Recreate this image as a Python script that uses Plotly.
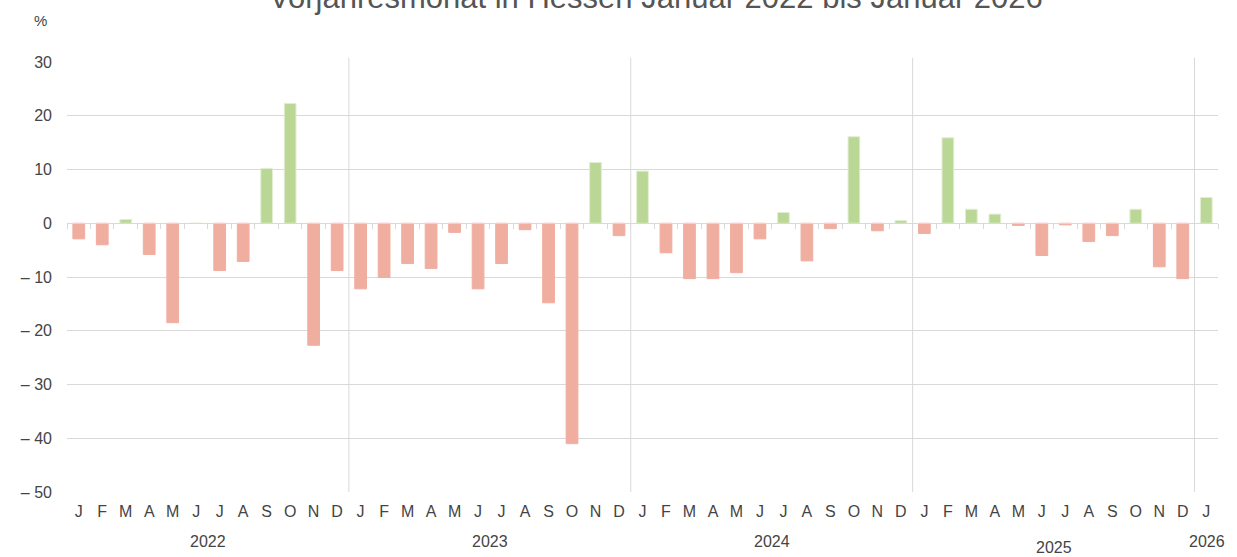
import plotly.graph_objects as go

months = ["J", "F", "M", "A", "M", "J", "J", "A", "S", "O", "N", "D"]
years = ["2022", "2023", "2024", "2025", "2026"]
month_labels = months * 4 + ["J"]

values = [
    -2.9, -4.0, 0.7, -5.8, -18.5, 0.0, -8.8, -7.1, 10.2, 22.3, -22.7, -8.8,   # 2022
    -12.2, -10.1, -7.5, -8.4, -1.7, -12.2, -7.5, -1.2, -14.8, -41.0, 11.3, -2.3,  # 2023
    9.7, -5.5, -10.3, -10.3, -9.2, -2.9, 2.0, -7.0, -1.0, 16.1, -1.4, 0.5,  # 2024
    -1.9, 15.9, 2.6, 1.7, -0.4, -6.0, -0.3, -3.4, -2.3, 2.6, -8.1, -10.3,  # 2025
    4.8,  # 2026
]

y_ticks = [-50, -40, -30, -20, -10, 0, 10, 20, 30]
y_ticktext = [("– " + str(-v)) if v < 0 else str(v) for v in y_ticks]

POS = "#bbd795"
NEG = "#f0aea0"
x = list(range(len(values)))
colors = [POS if v >= 0 else NEG for v in values]
line_colors = ["#e2eed3" if v >= 0 else NEG for v in values]

fig = go.Figure()
fig.add_trace(go.Bar(
    x=x, y=values, width=0.5,
    marker=dict(color=colors, line=dict(color=line_colors, width=1)),
    hoverinfo="y",
))

# ticks on zero line (overlay axis)
fig.add_trace(go.Scatter(x=[0], y=[0], xaxis="x2", mode="markers",
                         marker=dict(opacity=0), showlegend=False, hoverinfo="skip"))

font_family = "Liberation Sans, Arial, sans-serif"
txt = "#444444"
grid = "#d9d9d9"

fig.update_layout(
    width=1237, height=557,
    margin=dict(l=67, r=19, t=62, b=65),
    paper_bgcolor="white", plot_bgcolor="white",
    showlegend=False,
    font=dict(family=font_family, size=16, color=txt),
    bargap=0.5,
    xaxis=dict(
        range=[-0.5, len(values) - 0.5],
        tickmode="array", tickvals=x, ticktext=month_labels,
        showgrid=False, zeroline=False, showline=False, ticks="",
        ticklabelstandoff=8,
        tickfont=dict(size=16, color=txt),
    ),
    xaxis2=dict(
        overlaying="x", anchor="free", position=50 / 80,
        range=[-0.5, len(values) - 0.5],
        tickmode="array", tickvals=[i - 0.5 for i in range(len(values) + 1)],
        ticks="outside", ticklen=5, tickcolor=grid, tickwidth=1,
        showticklabels=False, showgrid=False, zeroline=False,
        showline=True, linecolor=grid, linewidth=1, side="bottom",
    ),
    yaxis=dict(
        range=[-50, 30],
        tickmode="array", tickvals=y_ticks, ticktext=y_ticktext,
        showgrid=True, gridcolor=grid, gridwidth=1,
        zeroline=False, showline=False, ticks="",
        ticklabelstandoff=14,
        tickfont=dict(size=16, color=txt),
    ),
)

# vertical year separators
for k in range(1, 5):
    fig.add_shape(type="line", xref="x", yref="paper",
                  x0=12 * k - 0.5, x1=12 * k - 0.5, y0=0, y1=1.01,
                  line=dict(color=grid, width=1), layer="below")

# year labels
year_pos = [5.5, 17.5, 29.5, 41.5, 48.05]
year_y = [-0.116, -0.116, -0.116, -0.128, -0.116]
for yr, xp, yp in zip(years, year_pos, year_y):
    fig.add_annotation(text=yr, x=xp, y=yp, xref="x", yref="paper",
                       showarrow=False, font=dict(size=16, color=txt),
                       xanchor="center", yanchor="middle")

fig.add_annotation(text="%", x=-0.023, y=1.097, xref="paper", yref="paper",
                   showarrow=False, font=dict(size=15, color=txt),
                   xanchor="center", yanchor="middle")

fig.add_annotation(text="Vorjahresmonat in Hessen Januar 2022 bis Januar 2026",
                   x=0.512, y=1.151, xref="paper", yref="paper",
                   showarrow=False, font=dict(size=31, color="#555555"),
                   xanchor="center", yanchor="middle")

fig.write_html("out.html", config={"displayModeBar": False},
               post_script="document.body.style.margin='0px';document.body.style.padding='0px';")
